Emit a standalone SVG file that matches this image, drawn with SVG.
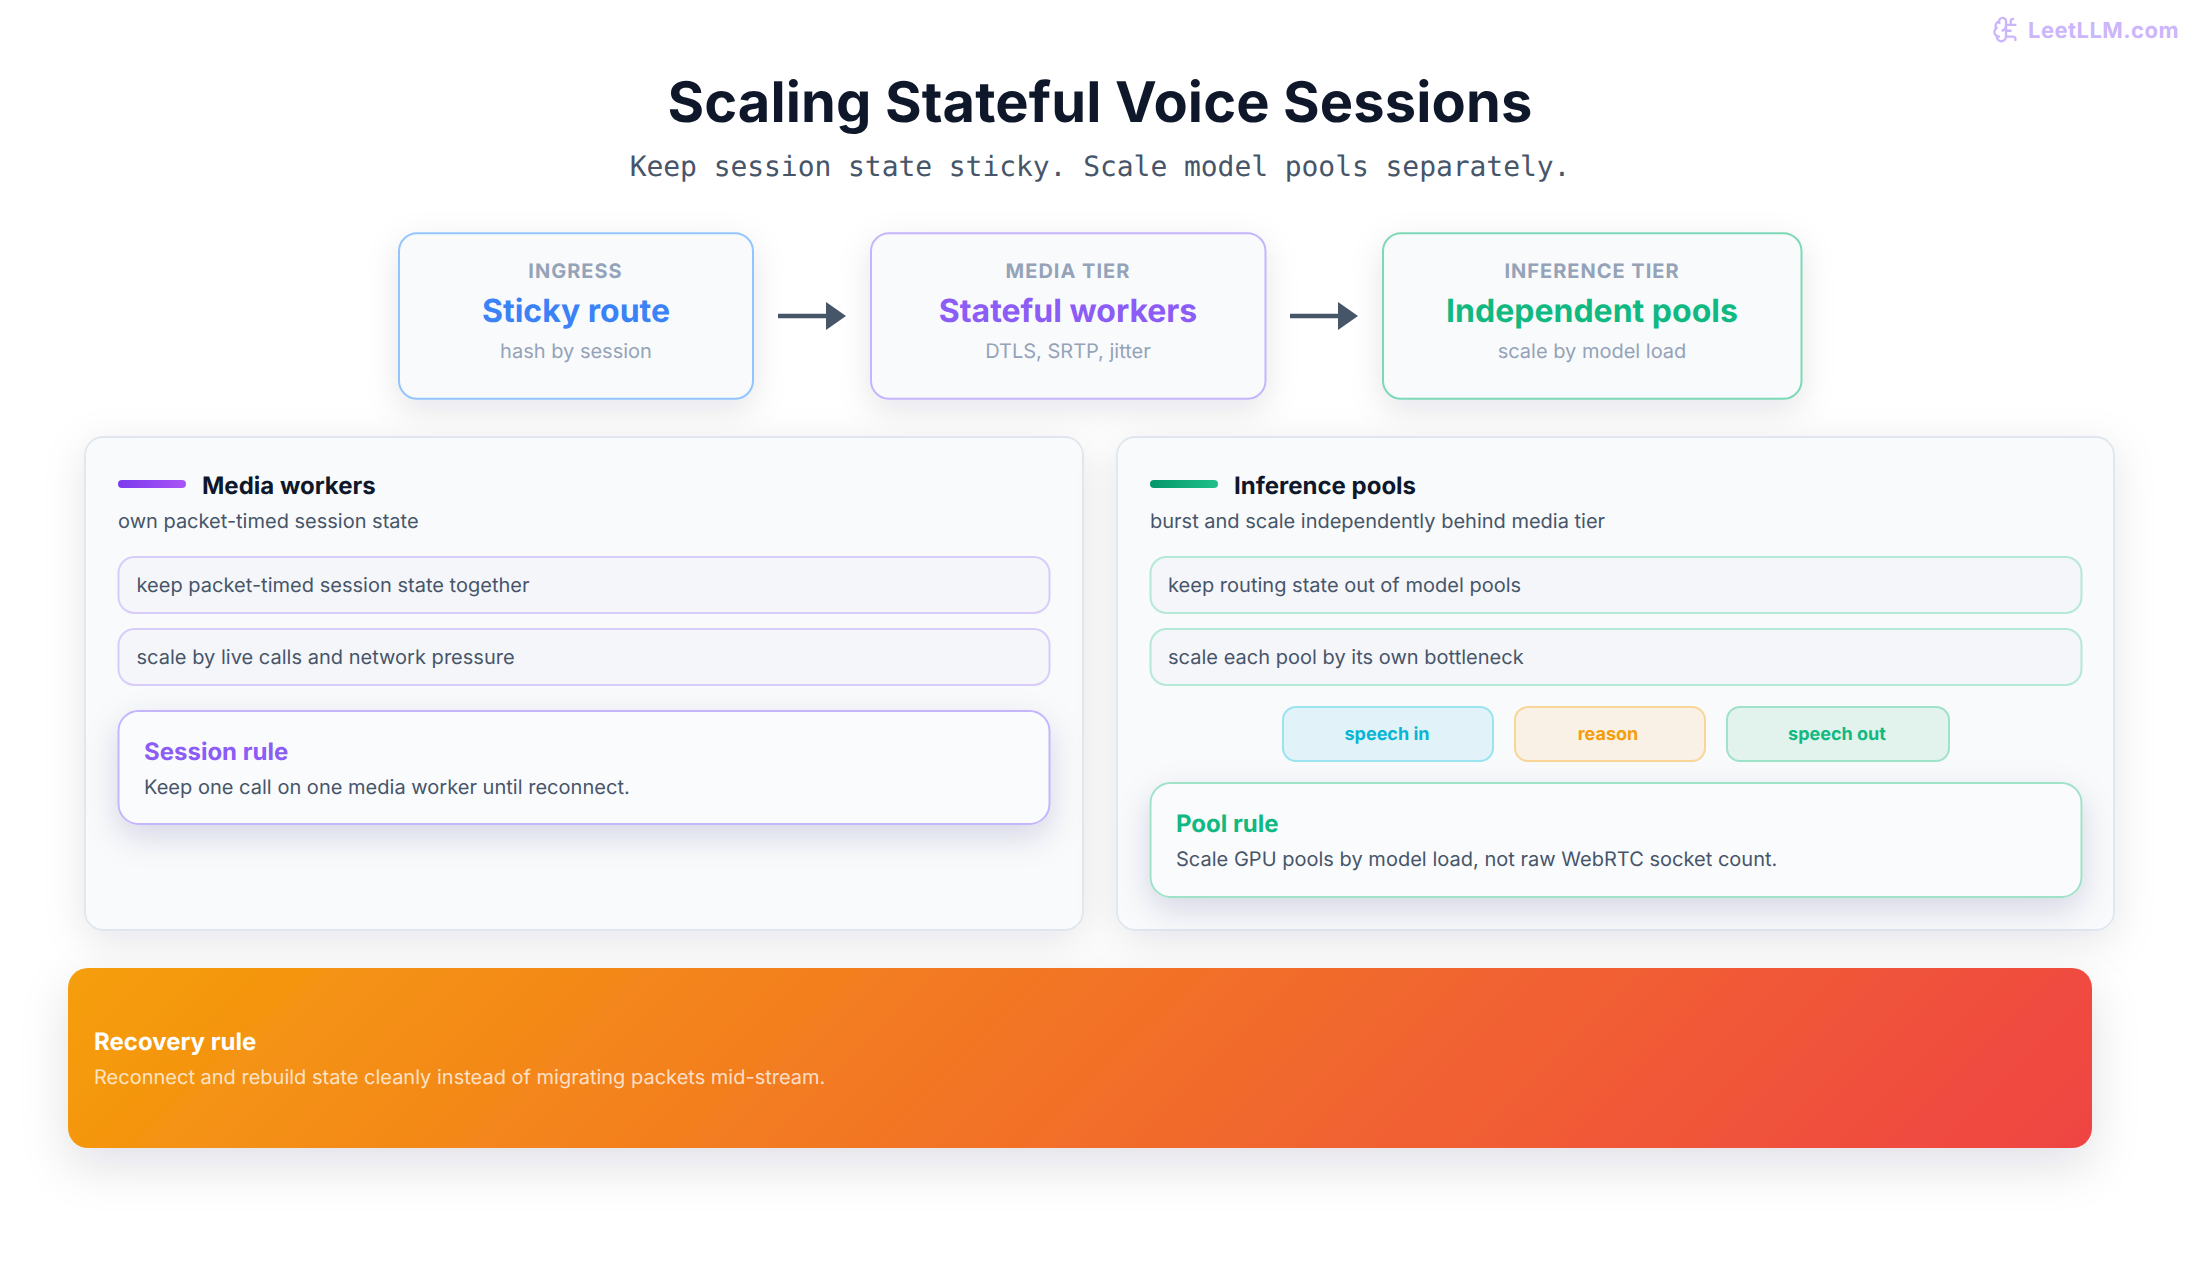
<svg xmlns="http://www.w3.org/2000/svg" width="2200" height="1280" viewBox="0 0 2200 1280">
<defs>
<filter id="sh" x="-30%" y="-50%" width="160%" height="220%"><feDropShadow dx="0" dy="10" stdDeviation="16" flood-color="#0f172a" flood-opacity="0.1"/></filter>
<filter id="shr" x="-10%" y="-50%" width="120%" height="220%"><feDropShadow dx="0" dy="12" stdDeviation="16" flood-color="#1e1b4b" flood-opacity="0.14"/></filter>
<filter id="shp" x="-10%" y="-20%" width="120%" height="145%"><feDropShadow dx="0" dy="10" stdDeviation="20" flood-color="#0f172a" flood-opacity="0.1"/></filter>
<filter id="shb" x="-10%" y="-60%" width="120%" height="240%"><feDropShadow dx="0" dy="18" stdDeviation="24" flood-color="#0f172a" flood-opacity="0.12"/></filter>
<linearGradient id="orange" gradientUnits="userSpaceOnUse" x1="529" y1="507" x2="1631" y2="1609"><stop offset="0" stop-color="#f59e0b"/><stop offset="1" stop-color="#ef4444"/></linearGradient>
<linearGradient id="barP" x1="0" x2="1" y1="0" y2="0"><stop offset="0" stop-color="#7c3aed"/><stop offset="1" stop-color="#a855f7"/></linearGradient>
<linearGradient id="barG" x1="0" x2="1" y1="0" y2="0"><stop offset="0" stop-color="#059669"/><stop offset="1" stop-color="#20c08a"/></linearGradient>
<marker id="arrow" markerUnits="userSpaceOnUse" markerWidth="20" markerHeight="28" refX="0" refY="14" orient="auto"><path d="M0 0L20 14L0 28Z" fill="#475569"/></marker>
</defs>
<style>
text{font-family:Inter,"Noto Sans","Liberation Sans",sans-serif;text-rendering:geometricPrecision}
.title{font-size:56px;font-weight:700;fill:#0f172a;text-anchor:middle;letter-spacing:.12px}
.sub{font-family:"DejaVu Sans Mono","Liberation Mono",monospace;font-size:28px;fill:#475569;text-anchor:middle;letter-spacing:-.06px}
.kick{font-size:20px;font-weight:700;fill:#94a3b8;text-anchor:middle;letter-spacing:1px}
.big{font-size:32px;font-weight:700;text-anchor:middle}
.note{font-size:20px;fill:#94a3b8;text-anchor:middle}
.card{fill:#f9fafc;stroke-width:2}
.rule{fill:#fafbfd;stroke-width:2}
.panel{fill:#f8fafc;stroke:#dfe6ee;stroke-width:1.8}
.ph{font-size:24px;font-weight:700;fill:#0f172a}
.ps{font-size:20px;fill:#475569}
.row{fill:#f5f6fa;stroke-width:2}
.rt{font-size:20px;fill:#475569;letter-spacing:.02px}
.rh{font-size:24px;font-weight:700}
.chip{stroke-width:2}
.ct{font-size:18px;font-weight:700;text-anchor:middle}
.conn{stroke:#475569;stroke-width:4.6;fill:none;marker-end:url(#arrow)}
</style>
<rect width="2200" height="1280" fill="#ffffff"/>
<g id="watermark"><g transform="translate(1992 15.5) scale(1.17)" fill="none" stroke="#ccb6fb" stroke-width="2" stroke-linecap="round" stroke-linejoin="round"><path d="M12 5a3 3 0 1 0-5.997.125 4 4 0 0 0-2.526 5.77 4 4 0 0 0 .556 6.588A4 4 0 1 0 12 18Z"/><path d="M9 13a4.5 4.5 0 0 0 3-4"/><path d="M6.003 5.125A3 3 0 0 0 6.401 6.5"/><path d="M3.477 10.896a4 4 0 0 1 .585-.396"/><path d="M6 18a4 4 0 0 1-1.967-.516"/><path d="M12 13h4"/><path d="M12 18h6a2 2 0 0 1 2 2v1"/><path d="M12 8h8"/><path d="M16 8V5a2 2 0 0 1 2-2"/></g><text x="2028" y="37.5" font-size="22" font-weight="700" fill="#ccb6fb" letter-spacing=".45">LeetLLM.com</text></g>
<g id="header"><text class="title" x="1100" y="122">Scaling Stateful Voice Sessions</text><text class="sub" x="1100" y="176">Keep session state sticky. Scale model pools separately.</text></g>
<g id="node-ingress"><rect class="card" filter="url(#sh)" x="399" y="233.2" width="354" height="165.6" rx="18" stroke="#93c5fd"/><text class="kick" x="575.5" y="278">INGRESS</text><text class="big" x="576" y="322" fill="#3b82f6">Sticky route</text><text class="note" x="576" y="358">hash by session</text></g>
<g id="node-media"><rect class="card" filter="url(#sh)" x="871" y="233.2" width="394.5" height="165.6" rx="18" stroke="#c4b5fd"/><text class="kick" x="1068" y="278">MEDIA TIER</text><text class="big" x="1068" y="322" fill="#8b5cf6">Stateful workers</text><text class="note" x="1068" y="358">DTLS, SRTP, jitter</text></g>
<g id="node-inference"><rect class="card" filter="url(#sh)" x="1383" y="233.2" width="418.5" height="165.6" rx="18" stroke="#7dd8b8"/><text class="kick" x="1592" y="278">INFERENCE TIER</text><text class="big" x="1592" y="322" fill="#10b981">Independent pools</text><text class="note" x="1592" y="358">scale by model load</text></g>
<g id="connectors"><line class="conn" x1="778" y1="316" x2="826" y2="316"/><line class="conn" x1="1290" y1="316" x2="1338" y2="316"/></g>
<g id="panel-media"><rect class="panel" filter="url(#shp)" x="85" y="437" width="998" height="493" rx="18"/><rect x="118" y="480" width="68" height="8" rx="4" fill="url(#barP)"/><text class="ph" x="202" y="494">Media workers</text><text class="ps" x="118" y="528">own packet-timed session state</text>
<rect class="row" x="118.5" y="557" width="931" height="56" rx="16" stroke="#d8ccfb"/><text class="rt" x="136.5" y="592">keep packet-timed session state together</text>
<rect class="row" x="118.5" y="629" width="931" height="56" rx="16" stroke="#d8ccfb"/><text class="rt" x="136.5" y="664">scale by live calls and network pressure</text>
<rect class="rule" filter="url(#shr)" x="118.5" y="711" width="931" height="113" rx="20" stroke="#c4b5fd"/><text class="rh" x="144" y="760" fill="#8b5cf6">Session rule</text><text class="rt" x="144" y="794">Keep one call on one media worker until reconnect.</text></g>
<g id="panel-inference"><rect class="panel" filter="url(#shp)" x="1117" y="437" width="997" height="493" rx="18"/><rect x="1150" y="480" width="68" height="8" rx="4" fill="url(#barG)"/><text class="ph" x="1234" y="494">Inference pools</text><text class="ps" x="1150" y="528">burst and scale independently behind media tier</text>
<rect class="row" x="1150.5" y="557" width="931" height="56" rx="16" stroke="#b5e8d5"/><text class="rt" x="1168" y="592">keep routing state out of model pools</text>
<rect class="row" x="1150.5" y="629" width="931" height="56" rx="16" stroke="#b5e8d5"/><text class="rt" x="1168" y="664">scale each pool by its own bottleneck</text>
<rect class="chip" x="1283" y="707" width="210" height="54" rx="13" fill="#e1f3f9" stroke="#9ae3ef"/><text class="ct" x="1387" y="740" fill="#06b6d4">speech in</text>
<rect class="chip" x="1515" y="707" width="190" height="54" rx="13" fill="#f9f1e5" stroke="#f8d698"/><text class="ct" x="1608" y="740" fill="#f59e0b">reason</text>
<rect class="chip" x="1727" y="707" width="222" height="54" rx="13" fill="#e2f3ed" stroke="#9fe2c8"/><text class="ct" x="1837" y="740" fill="#10b981">speech out</text>
<rect class="rule" filter="url(#shr)" x="1150.5" y="783" width="931" height="114" rx="20" stroke="#9fe2c8"/><text class="rh" x="1176" y="832" fill="#10b981">Pool rule</text><text class="rt" x="1176" y="866">Scale GPU pools by model load, not raw WebRTC socket count.</text></g>
<g id="banner"><rect filter="url(#shb)" x="68" y="968" width="2024" height="180" rx="20" fill="url(#orange)"/><text x="94" y="1050" font-size="24" font-weight="700" fill="#ffffff">Recovery rule</text><text x="94" y="1084" font-size="20" fill="#ffffff" fill-opacity=".75">Reconnect and rebuild state cleanly instead of migrating packets mid-stream.</text></g>
</svg>
